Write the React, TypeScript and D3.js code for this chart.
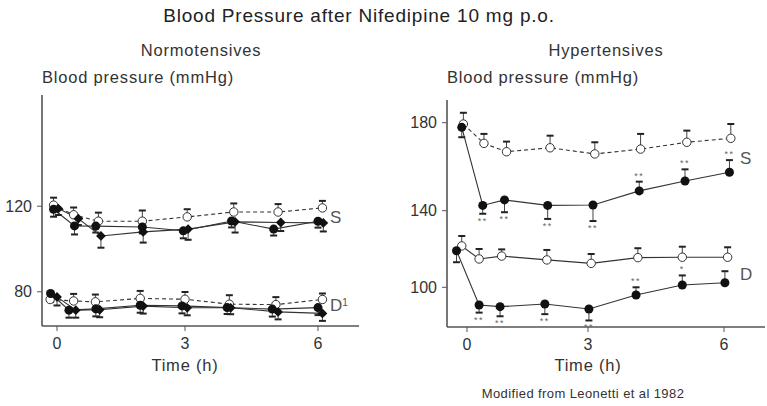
import React, { useRef, useEffect } from "react";
import * as d3 from "d3";

// time points (h) as plotted; small offsets keep the markers apart
const timeTicks = [0, 3, 6];
const normTicks = [80, 120];
const hyperTicks = [100, 140, 180];

// Normotensives, systolic
const nSysOpenT = [-0.08, 0.39, 0.97, 2.0, 3.05, 4.1, 5.1, 6.1];
const nSysOpen = [120.5, 116, 113, 113, 115, 117.3, 117.3, 119.2];
const nSysOpenErr = [3.5, 3.4, 4, 5, 3.6, 4, 3.7, 3.3];
const nSysCircT = [-0.08, 0.41, 0.91, 2.0, 2.96, 4.05, 5.0, 6.0];
const nSysCirc = [118.6, 110.8, 110.7, 110.3, 108.5, 113.1, 109.3, 113];
const nSysCircErr = [-3.5, -4, -3, -3, -3.5, -3, -3, -3];
const nSysDiaT = [0.03, 0.5, 1.03, 2.02, 3.07, 4.13, 5.16, 6.12];
const nSysDia = [118.9, 114.2, 106.1, 108, 109.3, 112.7, 112.4, 112.2];
const nSysDiaErr = [-3, -3, -5.5, -5, -5, -5, -4, -4];

// Normotensives, diastolic
const nDiaOpenT = [-0.16, 0.39, 0.9, 1.95, 3.0, 4.0, 5.05, 6.1];
const nDiaOpen = [76.4, 75.7, 75.3, 76.9, 76.5, 74.2, 74, 76.4];
const nDiaOpenErr = [3.5, 3.3, 3.4, 3.5, 3.4, 4.2, 3.5, 2.8];
const nDiaCircT = [-0.15, 0.28, 0.91, 1.95, 2.93, 3.95, 4.97, 6.0];
const nDiaCirc = [79.2, 71.4, 72, 73.7, 73.4, 72.6, 71.9, 72.6];
const nDiaCircErr = [-4, -3.5, -3.5, -3.5, -3.5, -3, -3.5, -3.5];
const nDiaDiaT = [0.0, 0.44, 1.0, 2.02, 3.05, 4.03, 5.1, 6.1];
const nDiaDia = [77.6, 71.4, 71.6, 73.3, 72.5, 72.5, 70.6, 69.9];
const nDiaDiaErr = [-4, -3.5, -3.5, -3.5, -3.5, -3, -3.5, -3.5];

// Hypertensives, systolic
const hSysOpenT = [-0.09, 0.42, 0.98, 2.06, 3.15, 4.16, 5.18, 6.15];
const hSysOpen = [179.4, 170.6, 166.8, 168.6, 165.8, 168, 171.1, 172.9];
const hSysOpenErr = [5.1, 4.3, 4.6, 5.5, 5.3, 6.9, 5.3, 6.5];
const hSysFillT = [-0.13, 0.39, 0.93, 2.0, 3.11, 4.13, 5.14, 6.12];
const hSysFill = [177.9, 142.4, 144.9, 142.4, 142.6, 149, 153.5, 157.5];
const hSysFillErr = [-4.5, -4, -5.7, -6.7, -8, 4.2, 5.3, 5.5];
const hSysStars = ["", "**", "**", "**", "**", "**", "**", "**"];

// Hypertensives, diastolic
const hDiaOpenT = [-0.13, 0.3, 0.86, 1.98, 3.07, 4.1, 5.08, 6.08];
const hDiaOpen = [121.6, 114.8, 116.3, 114.3, 112.5, 115.5, 115.7, 115.7];
const hDiaOpenErr = [5.2, 5.2, 3.5, 5.2, 4.9, 4.9, 5.5, 5.2];
const hDiaFillT = [-0.26, 0.3, 0.82, 1.93, 3.02, 4.06, 5.08, 6.02];
const hDiaFill = [119.1, 90.8, 89.9, 91.3, 88.7, 96, 101.2, 102.4];
const hDiaFillErr = [-6, -4, -5, -5.3, -6, 4, 5, 6];
const hDiaStars = ["", "**", "**", "**", "**", "**", "*", ""];

const font = "'Liberation Sans', Arial, Helvetica, sans-serif";
const ink = "#333";

function makeSeries(t, v, e, marker, dashed, stars?) {
  return { marker, dashed, points: t.map((d, i) => ({ t: d, v: v[i], e: e[i], s: stars ? stars[i] : "" })) };
}

const panels = [
  {
    title: "Normotensives",
    titleX: 201,
    labelX: 330,
    left: 42, right: 359, top: 95, bottom: 326,
    x: d3.scaleLinear().domain(timeTicks).range([57, 185, 318]),
    y: d3.scaleLinear().domain([64, 172]).range([326, 95]),
    yTicks: normTicks,
    labels: [{ text: "S", v: 115 }, { text: "D", sup: "1", v: 74 }],
    series: [
      makeSeries(nSysOpenT, nSysOpen, nSysOpenErr, "open", true),
      makeSeries(nSysCircT, nSysCirc, nSysCircErr, "filled", false),
      makeSeries(nSysDiaT, nSysDia, nSysDiaErr, "diamond", false),
      makeSeries(nDiaOpenT, nDiaOpen, nDiaOpenErr, "open", true),
      makeSeries(nDiaCircT, nDiaCirc, nDiaCircErr, "filled", false),
      makeSeries(nDiaDiaT, nDiaDia, nDiaDiaErr, "diamond", false),
    ],
  },
  {
    title: "Hypertensives",
    titleX: 606,
    labelX: 740,
    left: 447, right: 765, top: 100, bottom: 327,
    x: d3.scaleLinear().domain(timeTicks).range([467, 588, 724]),
    // the scanned axis is not quite even, so the scale follows the printed ticks
    y: d3.scaleLinear().domain([79.3, 100, 140, 180, 190.3]).range([327, 287.3, 210.7, 122.7, 100]),
    yTicks: hyperTicks,
    labels: [{ text: "S", v: 164 }, { text: "D", v: 107 }],
    series: [
      makeSeries(hSysOpenT, hSysOpen, hSysOpenErr, "open", true),
      makeSeries(hSysFillT, hSysFill, hSysFillErr, "filled", false, hSysStars),
      makeSeries(hDiaOpenT, hDiaOpen, hDiaOpenErr, "open", false),
      makeSeries(hDiaFillT, hDiaFill, hDiaFillErr, "filled", false, hDiaStars),
    ],
  },
];

export default function App() {
  const ref = useRef(null);

  useEffect(() => {
    const svg = d3.select(ref.current);
    svg.selectAll("*").remove();
    svg.attr("font-family", font);

    svg.append("text")
      .attr("x", 359).attr("y", 22)
      .attr("text-anchor", "middle")
      .attr("font-size", 19)
      .attr("letter-spacing", 0.8)
      .attr("fill", "#222")
      .text("Blood Pressure after Nifedipine 10 mg p.o.");

    svg.append("text")
      .attr("x", 583).attr("y", 398)
      .attr("text-anchor", "middle")
      .attr("font-size", 13)
      .attr("letter-spacing", 0.4)
      .attr("fill", ink)
      .text("Modified from Leonetti et al 1982");

    panels.forEach((p) => {
      const g = svg.append("g");
      const { x, y } = p;

      g.append("text")
        .attr("x", p.titleX).attr("y", 56)
        .attr("text-anchor", "middle")
        .attr("font-size", 16.5)
        .attr("letter-spacing", 0.8)
        .attr("fill", ink)
        .text(p.title);

      g.append("text")
        .attr("x", p.left).attr("y", 83)
        .attr("font-size", 16.5)
        .attr("letter-spacing", 0.8)
        .attr("fill", ink)
        .text("Blood pressure (mmHg)");

      // axes
      g.append("line")
        .attr("x1", p.left).attr("x2", p.left)
        .attr("y1", p.top).attr("y2", p.bottom)
        .attr("stroke", "#555").attr("stroke-width", 1.6);
      g.append("line")
        .attr("x1", p.left).attr("x2", p.right)
        .attr("y1", p.bottom).attr("y2", p.bottom)
        .attr("stroke", "#555").attr("stroke-width", 1.6);

      const yt = g.selectAll(".yt").data(p.yTicks).join("g")
        .attr("transform", (d) => `translate(${p.left},${y(d)})`);
      yt.append("line").attr("x1", -5).attr("x2", 0).attr("stroke", "#555");
      yt.append("text")
        .attr("x", -10).attr("dy", "0.35em")
        .attr("text-anchor", "end")
        .attr("font-size", 16)
        .attr("fill", ink)
        .text((d) => d);

      const xt = g.selectAll(".xt").data(timeTicks).join("g")
        .attr("transform", (d) => `translate(${x(d)},${p.bottom})`);
      xt.append("line").attr("y1", 0).attr("y2", 5).attr("stroke", "#555");
      xt.append("text")
        .attr("y", 23)
        .attr("text-anchor", "middle")
        .attr("font-size", 16)
        .attr("fill", ink)
        .text((d) => d);

      g.append("text")
        .attr("x", x(3)).attr("y", 371)
        .attr("text-anchor", "middle")
        .attr("font-size", 16.5)
        .attr("letter-spacing", 0.8)
        .attr("fill", ink)
        .text("Time (h)");

      const line = d3.line().x((d) => x(d.t)).y((d) => y(d.v));

      p.series.forEach((s) => {
        g.append("path")
          .attr("d", line(s.points))
          .attr("fill", "none")
          .attr("stroke", "#333")
          .attr("stroke-width", 1.1)
          .attr("stroke-dasharray", s.dashed ? "4,3" : null);

        const eb = g.append("g").selectAll("g").data(s.points).join("g");
        eb.append("line")
          .attr("x1", (d) => x(d.t)).attr("x2", (d) => x(d.t))
          .attr("y1", (d) => y(d.v)).attr("y2", (d) => y(d.v + d.e))
          .attr("stroke", "#444").attr("stroke-width", 1);
        eb.append("line")
          .attr("x1", (d) => x(d.t) - 3.5).attr("x2", (d) => x(d.t) + 3.5)
          .attr("y1", (d) => y(d.v + d.e)).attr("y2", (d) => y(d.v + d.e))
          .attr("stroke", "#222").attr("stroke-width", 2);
        eb.filter((d) => d.s)
          .append("text")
          .attr("x", (d) => x(d.t))
          .attr("y", (d) => y(d.v + d.e) + (d.e < 0 ? 10 : -3))
          .attr("text-anchor", "middle")
          .attr("font-size", 9)
          .attr("letter-spacing", 1.5)
          .attr("fill", "#666")
          .text((d) => d.s);
      });

      p.series.forEach((s) => {
        const m = g.append("g").selectAll("path").data(s.points).join("path")
          .attr("transform", (d) => `translate(${x(d.t)},${y(d.v)})${s.marker === "diamond" ? " rotate(45)" : ""}`);
        if (s.marker === "diamond") {
          m.attr("d", d3.symbol(d3.symbolSquare, 48)()).attr("fill", "#111");
        } else if (s.marker === "filled") {
          m.attr("d", d3.symbol(d3.symbolCircle, 64)()).attr("fill", "#111");
        } else {
          m.attr("d", d3.symbol(d3.symbolCircle, 56)())
            .attr("fill", "#fff").attr("stroke", "#333").attr("stroke-width", 1);
        }
      });

      p.labels.forEach((l) => {
        const t = g.append("text")
          .attr("x", p.labelX).attr("y", y(l.v))
          .attr("dy", "0.35em")
          .attr("font-size", 17)
          .attr("fill", "#555")
          .text(l.text);
        if (l.sup) {
          t.append("tspan").attr("dy", "-0.5em").attr("font-size", 10).text(l.sup);
        }
      });
    });
  }, []);

  return (
    <svg
      ref={ref}
      width={767}
      height={406}
      style={{ position: "absolute", left: 0, top: 0, background: "#fff" }}
    />
  );
}
